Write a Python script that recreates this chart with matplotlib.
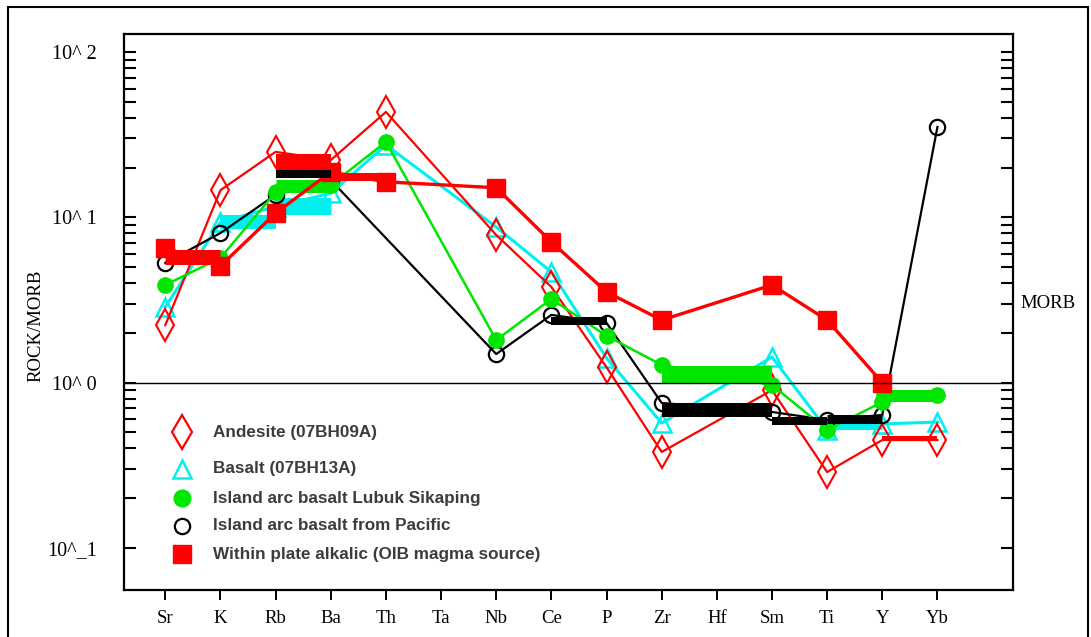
import numpy as np
import matplotlib
matplotlib.use("Agg")
import matplotlib.pyplot as plt
from matplotlib.lines import Line2D
from matplotlib.patches import Rectangle
from matplotlib.ticker import FixedLocator, NullFormatter

plt.rcParams['font.family'] = ['Liberation Serif', 'DejaVu Serif']

# ---------------- data ----------------
elements = ["Sr", "K", "Rb", "Ba", "Th", "Ta", "Nb", "Ce", "P", "Zr", "Hf", "Sm", "Ti", "Y", "Yb"]
nan = np.nan
andesite    = [2.23, 14.6, 24.9, 22.2, 43.4, nan, 7.82, 3.79, 1.24, 0.381, nan, 0.90, 0.288, 0.45, 0.45]
basalt      = [2.87, 9.37, 11.6, 14.0, 27.4, nan, 8.74, 4.67, 1.41, 0.570, nan, 1.43, 0.518, 0.563, 0.578]
iab_lubuk   = [3.90, 5.68, 14.2, 15.7, 28.6, nan, 1.81, 3.21, 1.92, 1.28, nan, 0.968, 0.518, 0.764, 0.843]
iab_pacific = [5.30, 8.04, 13.7, 16.8, nan, nan, 1.49, 2.57, 2.30, 0.754, nan, 0.665, 0.595, 0.638, 35.2]
wpa_oib     = [6.53, 5.08, 10.6, 18.8, 16.4, nan, 15.1, 7.10, 3.54, 2.39, nan, 3.90, 2.39, 1.00, nan]

# heavy horizontal step segments seen in the original (start element, end element, value)
andesite_steps = [("Y", "Yb", 0.463)]
basalt_steps   = [("K", "Rb", 9.37), ("Rb", "Ba", 11.7), ("Ti", "Y", 0.555)]
lubuk_steps    = [("Rb", "Ba", 15.5), ("Zr", "Sm", 1.11), ("Y", "Yb", 0.831)]
pacific_steps  = [("Rb", "Ba", 18.3), ("Ce", "P", 2.36), ("Zr", "Sm", 0.684), ("Sm", "Ti", 0.587), ("Ti", "Y", 0.603)]
oib_steps      = [("Sr", "K", 5.76), ("Rb", "Ba", 20.7), ("Ba", "Th", 17.5)]

legend_labels = ["Andesite (07BH09A)", "Basalt (07BH13A)", "Island arc basalt Lubuk Sikaping",
                 "Island arc basalt from Pacific", "Within plate alkalic (OIB magma source)"]
ytick_values = [0.1, 1, 10, 100]
ytick_labels = ["10^_1", "10^ 0", "10^ 1", "10^ 2"]

# ---------------- figure ----------------
W, H = 1091, 637
fig = plt.figure(figsize=(W / 100, H / 100), dpi=100)
ax = fig.add_axes([124 / W, (H - 590) / H, (1013 - 124) / W, (590 - 34) / H])
ax.set_yscale('log')
ax.set_xlim(-0.749, 15.37)
ax.set_ylim(10 ** -1.254, 10 ** 2.109)

idx = {e: i for i, e in enumerate(elements)}
x_all = np.arange(len(elements))
PX = 0.72  # px -> pt


def series(vals, color, lw, marker, ms, mfc, mec, mew, z):
    v = np.array(vals, dtype=float)
    m = ~np.isnan(v)
    ax.plot(x_all[m], v[m], color=color, lw=lw, marker=marker, ms=ms,
            mfc=mfc, mec=mec, mew=mew, zorder=z)


def steps(seglist, color, widths_px, z, cap='butt'):
    for (a, b, val), w in zip(seglist, widths_px):
        ax.plot([idx[a], idx[b]], [val, val], color=color, lw=w * PX,
                solid_capstyle=cap, zorder=z)


RED = '#ff0000'
CYAN = '#00f0f0'
GREEN = '#00e600'

steps(basalt_steps, CYAN, [14, 17, 9], 2.5)
series(basalt, CYAN, 2.2, '^', 13, 'none', CYAN, 1.8, 3)
series(andesite, RED, 1.6, 'd', 16, 'none', RED, 1.5, 4)
series(iab_pacific, 'black', 1.6, 'o', 11, 'none', 'black', 1.6, 5)
series(iab_lubuk, GREEN, 1.8, 'o', 11, GREEN, GREEN, 1.0, 6)
steps(andesite_steps, RED, [4], 8)
steps(lubuk_steps[:2], GREEN, [13, 18], 9)
steps(lubuk_steps[2:], GREEN, [12], 9, cap='round')
steps(oib_steps, RED, [15, 22, 8], 10)
series(wpa_oib, RED, 2.4, 's', 13, RED, RED, 1.0, 10.5)
steps(pacific_steps, 'black', [8, 8, 14, 8, 9], 11)

ax.axhline(1.0, color='black', lw=1.0, zorder=12)

# ---------------- axes styling ----------------
for s in ax.spines.values():
    s.set_linewidth(1.6)
ax.set_xticks(x_all)
ax.set_xticklabels(elements, fontsize=13.5)
ax.tick_params(axis='x', which='both', direction='out', length=7.2, width=1.4,
               top=False, pad=7.5)
ax.yaxis.set_major_locator(FixedLocator(ytick_values))
ax.set_yticklabels(ytick_labels, fontsize=14.5)
minor = [k * 10.0 ** e for e in (-1, 0, 1) for k in range(2, 10)]
ax.yaxis.set_minor_locator(FixedLocator(minor))
ax.yaxis.set_minor_formatter(NullFormatter())
ax.tick_params(axis='y', which='both', direction='in', length=8.6, width=1.5,
               left=True, right=True, pad=19.5)

fig.text(36 / W, 1 - 326 / H, "ROCK/MORB", rotation=90, ha='center', va='center', fontsize=13.5)
fig.text(1020 / W, 1 - 303 / H, "MORB", ha='left', va='center', fontsize=13.5)

# ---------------- legend ----------------
leg_rows = [432, 469, 498, 526, 554]
leg_style = [
    dict(marker='d', ms=17, mfc='none', mec=RED, mew=1.6),
    dict(marker='^', ms=13, mfc='none', mec=CYAN, mew=1.8),
    dict(marker='o', ms=12, mfc=GREEN, mec=GREEN, mew=1.0),
    dict(marker='o', ms=11, mfc='none', mec='black', mew=1.6),
    dict(marker='s', ms=13.5, mfc=RED, mec=RED, mew=1.0),
]
for yy, lab, st in zip(leg_rows, legend_labels, leg_style):
    fig.add_artist(Line2D([182 / W], [1 - yy / H], transform=fig.transFigure, ls='none', **st))
    fig.text(213 / W, 1 - yy / H, lab, ha='left', va='center', fontsize=12.3,
             fontweight='bold', color='#3c3c3c', family=['Liberation Sans', 'DejaVu Sans'])

# outer frame
fig.add_artist(Rectangle((8 / W, -0.1), (1088 - 8) / W, 1.1 - 7 / H,
                         transform=fig.transFigure, fill=False, lw=1.5, ec='black'))

fig.savefig("out.png", dpi=100)
